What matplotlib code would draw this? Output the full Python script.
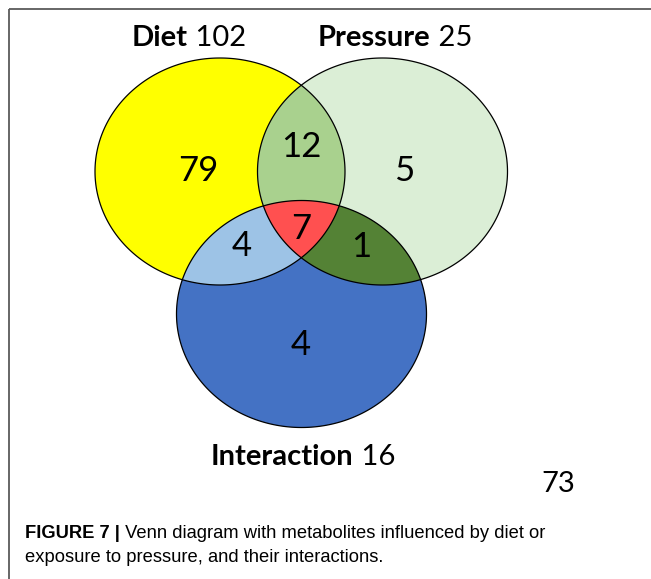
import numpy as np
import matplotlib
matplotlib.use('Agg')
import matplotlib.pyplot as plt
from matplotlib.patches import Polygon

# Venn data
set_names = ['Diet', 'Pressure', 'Interaction']
set_totals = [102, 25, 16]
region_keys = ['D', 'P', 'I', 'DP', 'DI', 'PI', 'DPI']
region_counts = [79, 5, 4, 12, 4, 1, 7]
outside_count = 73
caption_bold = 'FIGURE 7 |'
caption_lines = [' Venn diagram with metabolites influenced by diet or',
                 'exposure to pressure, and their interactions.']

# layout (pixel coords, y down)
ellipses = {'D': (220, 171.5), 'P': (382.5, 171.5), 'I': (301.5, 314)}
ew, eh = 250, 227
region_colors = {'D': '#FFFF00', 'P': '#DBEED6', 'I': '#4472C4',
                 'DP': '#A9D18E', 'DI': '#9DC3E6', 'PI': '#548235',
                 'DPI': '#FF5050'}
label_pos = {'D': (198, 171), 'P': (404, 171), 'I': (301, 345),
             'DP': (301, 147), 'DI': (242, 246), 'PI': (361, 247),
             'DPI': (301, 229)}
title_pos = {'Diet': (132, 46), 'Pressure': (318, 46), 'Interaction': (211, 465)}


def ellipse_pts(key, n=400):
    cx, cy = ellipses[key]
    t = np.linspace(0, 2 * np.pi, n, endpoint=False)
    return np.column_stack([cx + ew / 2 * np.cos(t), cy + eh / 2 * np.sin(t)])


def clip(subject, clipper):
    """Sutherland-Hodgman, clipper is convex and counter-clockwise."""
    out = list(subject)
    for i in range(len(clipper)):
        a, b = clipper[i - 1], clipper[i]
        inp, out = out, []
        if not inp:
            break

        def inside(p):
            return (b[0] - a[0]) * (p[1] - a[1]) - (b[1] - a[1]) * (p[0] - a[0]) >= 0

        def cross_pt(p, q):
            d1 = np.array(q) - np.array(p)
            d2 = b - a
            den = d1[0] * d2[1] - d1[1] * d2[0]
            s = ((a[0] - p[0]) * d2[1] - (a[1] - p[1]) * d2[0]) / den
            return np.array(p) + s * d1

        prev = inp[-1]
        for cur in inp:
            if inside(cur):
                if not inside(prev):
                    out.append(cross_pt(prev, cur))
                out.append(cur)
            elif inside(prev):
                out.append(cross_pt(prev, cur))
            prev = cur
    return np.array(out)


def region(key):
    poly = ellipse_pts(key[0])
    for k in key[1:]:
        poly = clip(poly, ellipse_pts(k))
    return poly


fig = plt.figure(figsize=(6.51, 5.79), dpi=100)
ax = fig.add_axes([0, 0, 1, 1])
ax.set_xlim(0, 651)
ax.set_ylim(579, 0)
ax.axis('off')

# frame
ax.plot([9, 651], [8.5, 8.5], color='#5a5a5a', lw=1.3, solid_capstyle='butt')
ax.plot([9, 9], [8.5, 579], color='#5a5a5a', lw=1.3, solid_capstyle='butt')

for key in region_keys:
    ax.add_patch(Polygon(region(key), closed=True, facecolor=region_colors[key],
                         edgecolor='none', zorder=2))
for key in ['D', 'P', 'I']:
    ax.add_patch(Polygon(ellipse_pts(key), closed=True, facecolor='none',
                         edgecolor='black', lw=0.9, zorder=3))

for key, n in zip(region_keys, region_counts):
    x, y = label_pos[key]
    ax.text(x, y, str(n), ha='center', va='center', fontsize=25,
            family='Lato', zorder=4)

for name, total in zip(set_names, set_totals):
    x, y = title_pos[name]
    t = ax.text(x, y, name, ha='left', va='baseline', fontsize=21,
                family='Lato', fontweight='bold')
    ax.annotate(' ' + str(total), xy=(1, 0), xycoords=t, ha='left', va='bottom',
                fontsize=21, family='Lato')

ax.text(541, 492, str(outside_count), ha='left', va='baseline', fontsize=21,
        family='Lato')

cap_font = 'Liberation Sans'
cb = ax.text(25, 538, caption_bold, ha='left', va='baseline', fontsize=13.2,
             family=cap_font, fontweight='bold')
ax.annotate(caption_lines[0], xy=(1, 0), xycoords=cb, ha='left', va='bottom',
            fontsize=13.2, family=cap_font)
ax.text(25, 562, caption_lines[1], ha='left', va='baseline', fontsize=13.2,
        family=cap_font)

plt.savefig('out.png', dpi=100)
